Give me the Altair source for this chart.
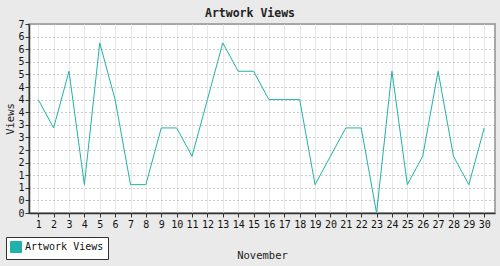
import altair as alt
import pandas as pd

days = [1, 2, 3, 4, 5, 6, 7, 8, 9, 10, 11, 12, 13, 14, 15,
        16, 17, 18, 19, 20, 21, 22, 23, 24, 25, 26, 27, 28, 29, 30]
views = [4, 3, 5, 1, 6, 4, 1, 1, 3, 3, 2, 4, 6, 5, 5,
         4, 4, 4, 1, 2, 3, 3, 0, 5, 1, 2, 5, 2, 1, 3]
series = ["Artwork Views"] * len(days)
y_ticks = [0, 0.4444, 0.8889, 1.3333, 1.7778, 2.2222, 2.6667, 3.1111,
           3.5556, 4.0, 4.4444, 4.8889, 5.3333, 5.7778, 6.2222, 6.6667]

df = pd.DataFrame({"day": days, "views": views, "series": series})

FONT = "DejaVu Sans Mono"
TEAL = "#20B2AA"

chart = alt.Chart(df).mark_line(strokeWidth=1, interpolate="linear").encode(
    x=alt.X("day:Q",
            scale=alt.Scale(domain=[0.4, 30.7], nice=False, zero=False),
            axis=alt.Axis(values=days, title="November", format="d",
                          grid=True, gridColor="#E8E8E8", gridWidth=1,
                          tickSize=4, tickColor="#333333", labelPadding=2,
                          titlePadding=21, labelFlush=False)),
    y=alt.Y("views:Q",
            scale=alt.Scale(domain=[0, 6.6667], nice=False),
            axis=alt.Axis(values=y_ticks, title="Views", format=".0f",
                          grid=True, gridColor="#9A9A9A", gridDash=[1, 3],
                          gridWidth=1, tickSize=4, tickColor="#333333",
                          labelPadding=1, titlePadding=2, labelFlush=False)),
    color=alt.Color("series:N",
                    scale=alt.Scale(range=[TEAL]),
                    legend=alt.Legend(title=None, orient="none",
                                      legendX=-23, legendY=213,
                                      symbolType="square", symbolSize=121,
                                      symbolFillColor=TEAL,
                                      symbolStrokeColor="#333333",
                                      symbolStrokeWidth=1,
                                      fillColor="white",
                                      strokeColor="#333333",
                                      padding=4, labelFontSize=10,
                                      labelFont=FONT, labelColor="#111111",
                                      labelOffset=3))
).properties(
    width=466,
    height=189,
    title=alt.TitleParams("Artwork Views", font=FONT, fontSize=11.5,
                          fontWeight="bold", color="#222222",
                          anchor="middle", offset=0, dx=-12),
    autosize=alt.AutoSizeParams(type="none"),
    padding={"left": 29, "top": 24, "right": 5, "bottom": 53},
    background="#EAEAEA"
).configure_view(
    fill="white", stroke="#A8A8A8", strokeWidth=2
).configure_axis(
    labelFont=FONT, labelFontSize=10, labelColor="#111111",
    titleFont=FONT, titleFontSize=10.5, titleFontWeight="normal",
    titleColor="#222222", domainColor="#333333", domainWidth=1.5
)

chart.save("out.html", embed_options={"renderer": "svg", "actions": False})
